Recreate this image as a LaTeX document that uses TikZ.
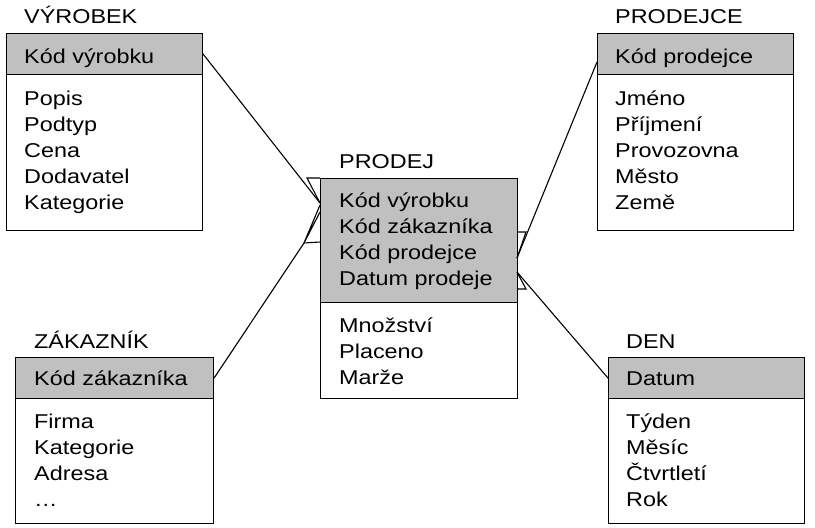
\documentclass[tikz,border=0pt]{standalone}
\usepackage{fontspec}
\setmainfont{Liberation Sans}[FakeStretch=1.17]
\definecolor{hdrgray}{RGB}{192,192,192}
\begin{document}
\begin{tikzpicture}[x=1pt,y=-1pt,
  hdr/.style={draw=black,line width=1.1pt,fill=hdrgray,anchor=north west,inner sep=0pt,minimum width=196pt},
  body/.style={draw=black,line width=1.1pt,fill=white,anchor=north west,inner sep=0pt,minimum width=196pt},
  txt/.style={anchor=base west,inner sep=0pt,font=\fontsize{20}{26}\selectfont},
  rel/.style={draw=black,line width=1.1pt}]
\useasboundingbox (0,0) rectangle (815,528);

% ---------- VÝROBEK ----------
\node[body,minimum height=156pt] (vb) at (6,74) {};
\node[hdr,minimum height=41pt] (vh) at (6,33) {};
\node[txt] (vt) at (24,23) {VÝROBEK};
\node[txt] (vk) at (24,63) {Kód výrobku};
\foreach \t [count=\i] in {Popis,Podtyp,Cena,Dodavatel,Kategorie}
  \node[txt] (v\i) at (24,{105+26*(\i-1)}) {\t};

% ---------- ZÁKAZNÍK ----------
\node[body,minimum height=125pt,minimum width=198pt] (zb) at (15,398) {};
\node[hdr,minimum height=41pt,minimum width=198pt] (zh) at (15,357) {};
\node[txt] (zt) at (34,348) {ZÁKAZNÍK};
\node[txt] (zk) at (34,385) {Kód zákazníka};
\foreach \t [count=\i] in {Firma,Kategorie,Adresa,…}
  \node[txt] (z\i) at (34,{428+26*(\i-1)}) {\t};

% ---------- PRODEJ ----------
\node[body,minimum height=96pt,minimum width=197pt] (pb) at (320,302) {};
\node[hdr,minimum height=124pt,minimum width=197pt] (prodej) at (320,178) {};
\node[txt] (pt) at (339,168) {PRODEJ};
\foreach \t [count=\i] in {Kód výrobku,Kód zákazníka,Kód prodejce,Datum prodeje}
  \node[txt] (pk\i) at (339,{207+26*(\i-1)}) {\t};
\foreach \t [count=\i] in {Množství,Placeno,Marže}
  \node[txt] (pi\i) at (339,{332+26*(\i-1)}) {\t};

% ---------- PRODEJCE ----------
\node[body,minimum height=156pt] (rb) at (597,74) {};
\node[hdr,minimum height=41pt] (rh) at (597,33) {};
\node[txt] (rt) at (615,23) {PRODEJCE};
\node[txt] (rk) at (615,63) {Kód prodejce};
\foreach \t [count=\i] in {Jméno,Příjmení,Provozovna,Město,Země}
  \node[txt] (r\i) at (615,{105+26*(\i-1)}) {\t};

% ---------- DEN ----------
\node[body,minimum height=125pt] (db) at (608,398) {};
\node[hdr,minimum height=41pt] (dh) at (608,357) {};
\node[txt] (dt) at (626,348) {DEN};
\node[txt] (dk) at (626,385) {Datum};
\foreach \t [count=\i] in {Týden,Měsíc,Čtvrtletí,Rok}
  \node[txt] (d\i) at (626,{428+26*(\i-1)}) {\t};

% ---------- connectors ----------
% VÝROBEK -> PRODEJ
\coordinate (aE) at (320,203);
\coordinate (aV) at (307,178);
\coordinate (aS) at (320,178);
\draw[rel] (vh.east) -- (aE);
\draw[rel] (aS) -- (aV) -- (aE);
% ZÁKAZNÍK -> PRODEJ
\coordinate (bV) at (304,243);
\coordinate (bS) at (320,242);
\coordinate (bE1) at (320,205);
\coordinate (bE2) at (320,212);
\draw[rel] (zh.east) -- (bV) -- (bS);
\draw[rel] (bE1) -- (bV) -- (bE2);
% PRODEJCE -> PRODEJ
\coordinate (cR) at (597,62);
\coordinate (cE) at (517,258);
\coordinate (cV) at (526,232);
\coordinate (cS) at (517,232);
\draw[rel] (cR) -- (cE);
\draw[rel] (cS) -- (cV) -- (cE);
% DEN -> PRODEJ
\coordinate (dE) at (517,272);
\coordinate (dV) at (526,289);
\coordinate (dS) at (517,289);
\draw[rel] (dE) -- (dh.west);
\draw[rel] (dS) -- (dV) -- (dE);
\end{tikzpicture}
\end{document}
